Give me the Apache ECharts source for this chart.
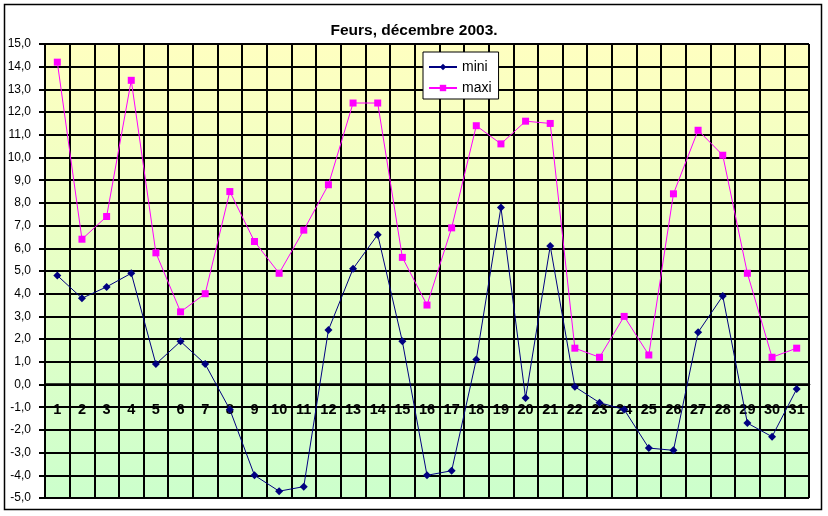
<!DOCTYPE html>
<html>
<head>
<meta charset="utf-8">
<script src="https://cdn.jsdelivr.net/npm/echarts@6/dist/echarts.min.js"></script>
<style>
html,body{margin:0;padding:0;background:#fff;}
#chart{width:828px;height:516px;}
</style>
</head>
<body>
<div id="chart"></div>
<script>
const titleText = 'Feurs, décembre 2003.';
const days = ['1','2','3','4','5','6','7','8','9','10','11','12','13','14','15','16','17','18','19','20','21','22','23','24','25','26','27','28','29','30','31'];
const mini = [4.8,3.8,4.3,4.9,0.9,1.9,0.9,-1.1,-4.0,-4.7,-4.5,2.4,5.1,6.6,1.9,-4.0,-3.8,1.1,7.8,-0.6,6.1,-0.1,-0.8,-1.1,-2.8,-2.9,2.3,3.9,-1.7,-2.3,-0.2];
const maxi = [14.2,6.4,7.4,13.4,5.8,3.2,4.0,8.5,6.3,4.9,6.8,8.8,12.4,12.4,5.6,3.5,6.9,11.4,10.6,11.6,11.5,1.6,1.2,3.0,1.3,8.4,11.2,10.1,4.9,1.2,1.6];
const yMin = -5, yMax = 15, yStep = 1;

const W = 828, H = 516;
const gridTop = 44, gridBottom = 18;
const plotH = H - gridTop - gridBottom;
// move the category axis up to the value 0 (as in the reference)
const zeroOffset = -((0 - yMin) / (yMax - yMin)) * plotH;

const FONT = 'Arial, "Liberation Sans", sans-serif';
const chart = echarts.init(document.getElementById('chart'), null, {renderer:'canvas'});
chart.setOption({
  animation: false,
  backgroundColor: '#ffffff',
  textStyle: {fontFamily: FONT},
  title: {
    text: titleText, left: 'center', top: 18,
    textStyle: {fontSize: 15.5, fontWeight: 'bold', color: '#000', fontFamily: FONT}
  },
  graphic: [{
    type: 'rect', silent: true, z: -1,
    shape: {x: 4.5, y: 4.5, width: 817, height: 505},
    style: {fill: 'none', stroke: '#000', lineWidth: 1.5}
  }],
  legend: {
    orient: 'vertical', left: 423, top: 52,
    backgroundColor: '#fff', borderColor: '#000', borderWidth: 1, borderRadius: 0,
    padding: [8, 7, 4, 5], itemGap: 7, itemWidth: 28, itemHeight: 8,
    textStyle: {fontSize: 14, color: '#000', fontFamily: FONT},
    data: ['mini', 'maxi']
  },
  grid: {
    left: 45, right: 19, top: gridTop, bottom: gridBottom,
    containLabel: false, outerBoundsMode: 'none',
    show: true, borderColor: '#808080', borderWidth: 1,
    backgroundColor: {type: 'linear', x: 0, y: 0, x2: 0, y2: 1,
      colorStops: [{offset: 0, color: '#FFFFC0'}, {offset: 1, color: '#CCFFCC'}]}
  },
  xAxis: {
    type: 'category', data: days, boundaryGap: true,
    position: 'bottom', offset: zeroOffset,
    axisLine: {onZero: false, lineStyle: {color: '#000', width: 2.5}},
    axisTick: {show: true, length: 5, inside: false, lineStyle: {color: '#000', width: 2}},
    axisLabel: {margin: 18, fontSize: 14.5, fontWeight: 'bold', color: '#000', interval: 0, fontFamily: FONT},
    splitLine: {show: true, lineStyle: {color: '#000', width: 2}}
  },
  yAxis: {
    type: 'value', min: yMin, max: yMax, interval: yStep,
    axisLine: {show: true, lineStyle: {color: '#000', width: 2}},
    axisTick: {show: true, length: 6, lineStyle: {color: '#000', width: 2}},
    axisLabel: {fontSize: 12, color: '#000', margin: 14, fontFamily: FONT,
      formatter: v => v.toFixed(1).replace('.', ',')},
    splitLine: {show: true, lineStyle: {color: '#000', width: 2}}
  },
  series: [
    {name: 'mini', type: 'line', data: mini, symbol: 'diamond', symbolSize: 8,
     lineStyle: {color: '#000080', width: 1}, itemStyle: {color: '#000080'}, z: 3},
    {name: 'maxi', type: 'line', data: maxi, symbol: 'rect', symbolSize: 7,
     lineStyle: {color: '#FF00FF', width: 1}, itemStyle: {color: '#FF00FF'}, z: 3}
  ]
});
</script>
</body>
</html>
